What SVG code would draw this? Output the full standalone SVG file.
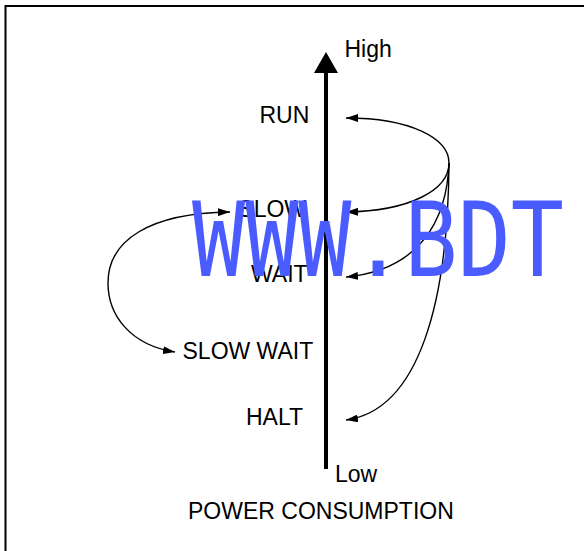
<svg xmlns="http://www.w3.org/2000/svg" width="584" height="551" viewBox="0 0 584 551">
<style>
.lbl{font-family:"Liberation Sans",Arial,sans-serif;font-size:23px;fill:#000}
.conn{fill:none;stroke:#000;stroke-width:1.4}
.wm{font-family:"DejaVu Sans Mono",monospace;font-size:104px;fill:#4a5cff}
</style>
<defs>
<marker id="ah" viewBox="0 0 12 8" refX="12" refY="4" markerWidth="12" markerHeight="8" markerUnits="userSpaceOnUse" orient="auto-start-reverse">
<path d="M0,0 L12,4 L0,8 z" fill="#000"/>
</marker>
</defs>
<rect width="584" height="551" fill="#fff"/>
<path d="M5.5,551 V6 H584" fill="none" stroke="#000" stroke-width="2"/>
<g id="axis">
<rect x="324" y="70" width="4" height="399" fill="#000"/>
<path d="M326,52 L338,73 L314,73 z" fill="#000"/>
</g>
<g id="connectors">
<path class="conn" d="M449,163 C449,138 410,118 346,118" marker-end="url(#ah)"/>
<path class="conn" d="M449,163 C449,190 410,211 346,212" marker-end="url(#ah)"/>
<path class="conn" d="M449,163 C447,220 420,270 346,277" marker-end="url(#ah)"/>
<path class="conn" d="M449,163 C448,300 420,410 346,420" marker-end="url(#ah)"/>
<path class="conn" d="M175,352 C130,345 108,315 108,283 C108,240 150,213 230,212" marker-start="url(#ah)" marker-end="url(#ah)"/>
</g>
<g id="high"><text class="lbl" x="344.5" y="57">High</text></g>
<g id="run"><text class="lbl" x="259.5" y="122.5">RUN</text></g>
<g id="slow"><text class="lbl" x="238.3" y="216.5">SLOW</text></g>
<g id="wait"><text class="lbl" x="251" y="282">WAIT</text></g>
<g id="slow-wait"><text class="lbl" x="182.5" y="359">SLOW WAIT</text></g>
<g id="halt"><text class="lbl" x="246" y="425">HALT</text></g>
<g id="low"><text class="lbl" x="335" y="481.5">Low</text></g>
<g id="title"><text class="lbl" x="188" y="519">POWER CONSUMPTION</text></g>
<g id="watermark"><text class="wm" x="192" y="276" textLength="372" lengthAdjust="spacingAndGlyphs">WWW.BDT</text></g>
</svg>
